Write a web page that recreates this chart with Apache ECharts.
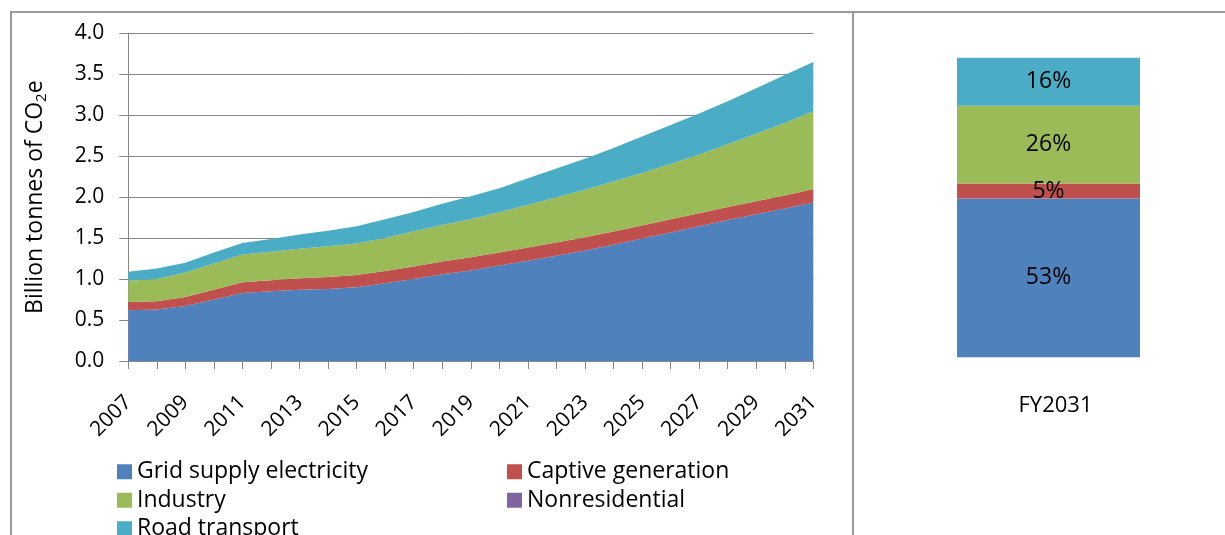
<!DOCTYPE html>
<html>
<head>
<meta charset="utf-8">
<script src="https://cdn.jsdelivr.net/npm/echarts@6/dist/echarts.min.js"></script>
<style>
html,body{margin:0;padding:0;background:#fff;}
#chart{width:1225px;height:535px;}
</style>
</head>
<body>
<div id="chart"></div>
<script>
// ---- Data (billion tonnes CO2e) ----
const years = ['2007','2008','2009','2010','2011','2012','2013','2014','2015','2016','2017','2018','2019','2020','2021','2022','2023','2024','2025','2026','2027','2028','2029','2030','2031'];
const gridSupply = [0.62,0.63,0.67,0.75,0.83,0.85,0.87,0.88,0.90,0.95,1.00,1.06,1.105,1.165,1.225,1.285,1.35,1.42,1.495,1.57,1.645,1.72,1.79,1.86,1.935];
const captiveGeneration = [0.10,0.10,0.11,0.12,0.13,0.135,0.14,0.145,0.15,0.15,0.155,0.155,0.16,0.16,0.16,0.16,0.16,0.16,0.16,0.16,0.16,0.16,0.16,0.16,0.165];
const industry = [0.26,0.27,0.30,0.32,0.34,0.35,0.36,0.375,0.385,0.40,0.43,0.445,0.465,0.49,0.52,0.555,0.58,0.61,0.64,0.675,0.715,0.765,0.825,0.885,0.95];
const nonresidential = [0,0,0,0,0,0,0,0,0,0,0,0,0,0,0,0,0,0,0,0,0,0,0,0,0];
const roadTransport = [0.11,0.13,0.12,0.135,0.14,0.155,0.175,0.19,0.21,0.23,0.235,0.26,0.28,0.295,0.325,0.35,0.38,0.41,0.445,0.475,0.50,0.525,0.555,0.585,0.60];

// ---- FY2031 shares (%) ----
const shareCategories = ['FY2031'];
const shareGrid = [53];
const shareCaptive = [5];
const shareIndustry = [26];
const shareNonres = [0];
const shareRoad = [16];

const seriesNames = ['Grid supply electricity','Captive generation','Industry','Nonresidential','Road transport'];
const colors = ['#4F81BD','#C0504D','#9BBB59','#8064A2','#4BACC6'];
const areaData = [gridSupply, captiveGeneration, industry, nonresidential, roadTransport];
const barData = [shareGrid, shareCaptive, shareIndustry, shareNonres, shareRoad];

const FONT = "'Open Sans', 'Noto Sans', sans-serif";
const GRAY = '#878787';

const chart = echarts.init(document.getElementById('chart'), null, {renderer: 'canvas'});

const series = [];
areaData.forEach((d, i) => {
  series.push({
    type: 'line', name: seriesNames[i], xAxisIndex: 0, yAxisIndex: 0,
    stack: 'total', data: d, symbol: 'none', showSymbol: false,
    lineStyle: {width: 0}, itemStyle: {color: colors[i]},
    areaStyle: {color: colors[i], opacity: 1}, z: 2
  });
});
barData.forEach((d, i) => {
  series.push({
    type: 'bar', name: seriesNames[i], xAxisIndex: 1, yAxisIndex: 1,
    stack: 'share', data: d, barWidth: 183, itemStyle: {color: colors[i]},
    label: {
      show: true, position: 'inside', color: '#000', fontSize: 23, fontFamily: FONT,
      formatter: p => (p.value ? p.value + '%' : '')
    }
  });
});

const legendCommon = {
  orient: 'vertical', icon: 'rect', itemWidth: 15, itemHeight: 15, itemGap: 5,
  padding: 0, height: 150, textStyle: {fontSize: 23, lineHeight: 23.5, color: '#000', fontFamily: FONT},
  selectedMode: false
};

chart.setOption({
  animation: false,
  backgroundColor: '#fff',
  textStyle: {fontFamily: FONT},
  graphic: [
    {type: 'rect', silent: true, z: -1, shape: {x: 11, y: 12, width: 842, height: 600}, style: {fill: 'none', stroke: '#9a9a9a', lineWidth: 2}},
    {type: 'rect', silent: true, z: -1, shape: {x: 853, y: 12, width: 420, height: 600}, style: {fill: 'none', stroke: '#9a9a9a', lineWidth: 2}}
  ],
  legend: [
    Object.assign({}, legendCommon, {left: 117, top: 460, data: ['Grid supply electricity','Industry','Road transport']}),
    Object.assign({}, legendCommon, {left: 507, top: 460, data: ['Captive generation','Nonresidential']})
  ],
  grid: [
    {left: 128.3, top: 33.3, width: 685, height: 327.7},
    {left: 938, top: 57.7, width: 221, height: 299.6}
  ],
  xAxis: [
    {
      type: 'category', gridIndex: 0, data: years, boundaryGap: false,
      axisLine: {show: true, lineStyle: {color: GRAY, width: 1}},
      axisTick: {show: true, interval: 0, length: 8, lineStyle: {color: GRAY}},
      axisLabel: {interval: 1, rotate: 45, fontSize: 21, margin: 38, color: '#000', fontFamily: FONT},
      splitLine: {show: false}
    },
    {
      type: 'category', gridIndex: 1, data: shareCategories,
      axisLine: {show: false}, axisTick: {show: false},
      axisLabel: {fontSize: 22, margin: 37, color: '#000', fontFamily: FONT, padding: [0, 0, 0, 14]}
    }
  ],
  yAxis: [
    {
      type: 'value', gridIndex: 0, min: 0, max: 4, interval: 0.5,
      name: '{a|Billion tonnes of CO}{s|2}{a|e}', nameLocation: 'middle', nameGap: 79, nameRotate: 90,
      nameTextStyle: {
        rich: {
          a: {fontSize: 23, lineHeight: 28, color: '#000', fontFamily: FONT},
          s: {fontSize: 15, lineHeight: 15, verticalAlign: 'bottom', color: '#000', fontFamily: FONT}
        }
      },
      axisLine: {show: true, lineStyle: {color: GRAY, width: 1}},
      axisTick: {show: true, length: 9, lineStyle: {color: GRAY}},
      axisLabel: {formatter: v => v.toFixed(1), fontSize: 21, margin: 24, color: '#000', fontFamily: FONT},
      splitLine: {show: true, lineStyle: {color: GRAY, width: 1}}
    },
    {type: 'value', gridIndex: 1, min: 0, max: 100, show: false}
  ],
  series: series
});
</script>
</body>
</html>
